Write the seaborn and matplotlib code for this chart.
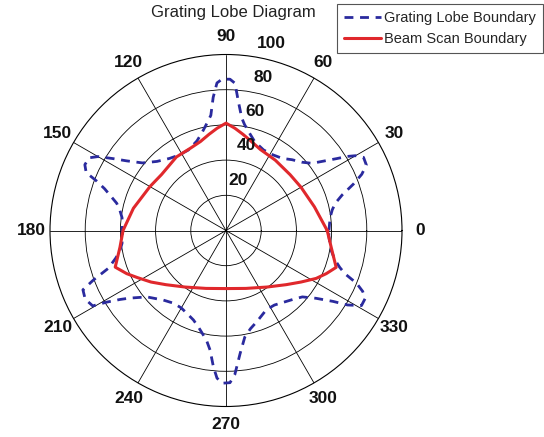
import matplotlib
matplotlib.use("Agg")
import matplotlib.pyplot as plt
import numpy as np
import pandas as pd
import seaborn as sns

sns.set_theme(style="white")
plt.rcParams['font.family'] = ['Liberation Sans', 'DejaVu Sans']

# grating lobe boundary (azimuth deg, scan angle deg), traced counter-clockwise
grating_az = [0, 4, 8, 11, 14, 17, 20, 22.5, 25, 28, 30, 31.5, 33, 34.5, 38, 42, 47, 52, 58, 65,
              72, 76, 80, 82, 84.5, 86.5, 88.5,
              91.5, 93.5, 95.5, 97.5, 100, 104, 108, 115, 122, 128, 135, 141, 145, 147.5, 150,
              152, 155, 157.5, 159, 161, 163, 166, 169, 173,
              180, 187, 191, 194, 197.8, 200.5, 202.5, 206, 209.5, 211, 213, 215, 220, 228, 234,
              240, 246, 250, 254, 257.7, 260, 262.4, 264.7, 266.5, 268.5,
              271.5, 273.5, 276.5, 280, 284, 289, 297, 303, 308, 314, 319, 323, 326.5, 328.5,
              331, 334, 336, 338, 340, 342, 345, 349, 353, 357, 360]
grating_r = [58.5, 59, 60, 61.5, 64, 69, 77, 83.5, 88, 88.5, 85, 80.5, 75, 70.5, 62, 58, 55, 52, 50.6, 50.5,
             53, 56.5, 61, 64.5, 73.5, 83.8, 86,
             86, 84, 76, 66, 62, 57, 53.5, 50.5, 50.5, 52, 55.5, 61, 69, 76, 84,
             88, 88.5, 86, 79, 73, 69, 64, 61.5, 59.5,
             59, 59.5, 61.5, 64.5, 70.2, 80.5, 88, 89, 87, 79, 72, 67, 58.7, 53.2, 51,
             50.8, 52.5, 54.1, 57, 60.7, 63.5, 68.5, 77.7, 84, 86.8,
             86.5, 82, 70.5, 61.5, 57.5, 54.5, 50.5, 50.5, 52, 54.5, 57.5, 64, 73, 81,
             88, 88, 85, 80, 72, 68, 64, 61, 59.5, 58.5, 58.5]

# beam scan boundary
beam_az = [0, 15, 30, 41, 55, 67, 75, 80, 85, 90, 95, 100, 106, 113, 124, 139, 150, 166.5, 180,
           189, 198.3, 203.5, 208, 214.5, 222, 234, 251, 270, 289, 306, 318, 325.5, 332, 336.7,
           341.5, 351, 360]
beam_r = [57.5, 52, 49.2, 48.3, 48.8, 50, 53, 55.5, 58.3, 61, 58.3, 55.5, 52.6, 51, 50.4, 48.5, 49.9, 54.1, 58.5,
          61, 66.3, 61.5, 57, 51.7, 46, 39.7, 34.8, 33, 34.8, 39.7, 46, 51.7, 58, 62,
          66, 60.5, 57.5]

ring_vals = [20, 40, 60, 80, 100]
spoke_vals = list(range(0, 360, 30))

grating = pd.DataFrame({'theta': np.deg2rad(grating_az), 'r': grating_r})
beam = pd.DataFrame({'theta': np.deg2rad(beam_az), 'r': beam_r})

W, H = 544, 437
fig = plt.figure(figsize=(W / 100, H / 100), dpi=100)
ax = fig.add_axes([50 / W, 30.5 / H, 352 / W, 352 / H], projection='polar')

sns.lineplot(data=grating, x='theta', y='r', ax=ax, sort=False, estimator=None,
             color='#2a2a9e', lw=2.0, linestyle=(0, (3.2, 2.4)), label='Grating Lobe Boundary')
sns.lineplot(data=beam, x='theta', y='r', ax=ax, sort=False, estimator=None,
             color='#e0282c', lw=2.2, label='Beam Scan Boundary')

ax.set_ylim(0, 100)
ax.set_rgrids(ring_vals[:-1], labels=[])
ax.set_thetagrids(spoke_vals, labels=[])
ax.grid(True, color='black', lw=0.6, ls='-')
ax.spines['polar'].set_color('black')
ax.spines['polar'].set_linewidth(0.8)
ax.set_xlabel('')
ax.set_ylabel('')
ax.tick_params(length=0)

for a in spoke_vals:
    ax.text(np.deg2rad(a), 110.5, str(a), ha='center', va='center',
            fontsize=12.5, fontweight='bold', color='#111111')
for v in ring_vals:
    ax.text(np.deg2rad(76.4), v + 9.5, str(v), ha='center', va='center',
            fontsize=12.5, fontweight='bold', color='#111111')

fig.text(233 / W, 1 - 13 / H, 'Grating Lobe Diagram', ha='center', va='center',
         fontsize=12, color='#222222')

leg = ax.legend(loc='upper right', bbox_to_anchor=(543 / W, 1 - 4 / H),
                bbox_transform=fig.transFigure, frameon=True, fancybox=False,
                edgecolor='#555555', framealpha=1, fontsize=10.5, handlelength=2.5,
                handletextpad=0.2, borderpad=0.5, labelspacing=0.45, borderaxespad=0)
leg.get_frame().set_linewidth(0.8)

fig.savefig('out.png', dpi=100)
